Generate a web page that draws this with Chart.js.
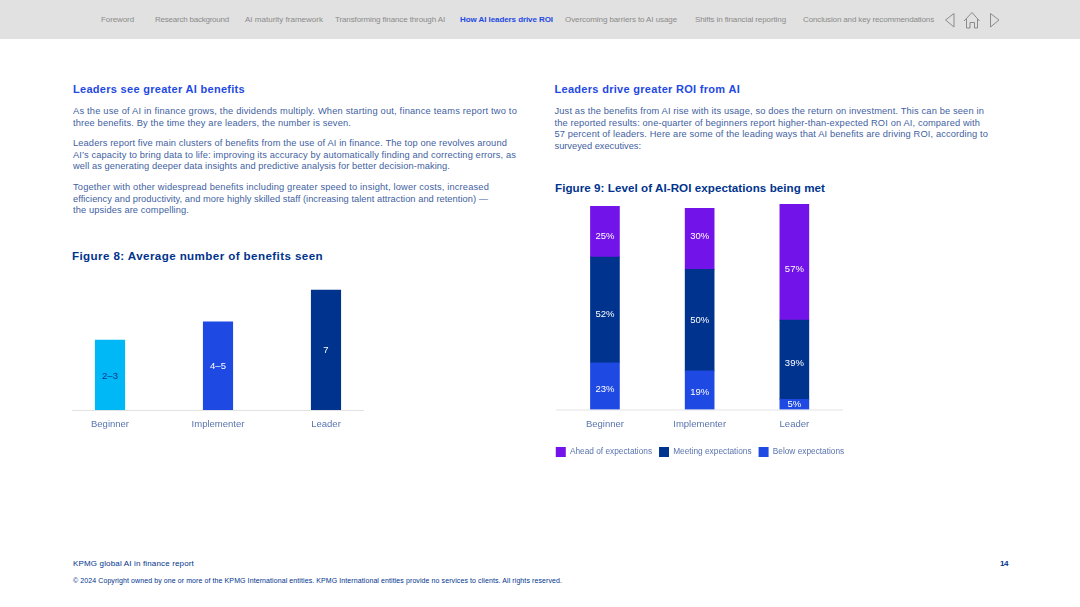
<!DOCTYPE html>
<html><head><meta charset="utf-8">
<script src="https://cdn.jsdelivr.net/npm/chart.js@4"></script>
<style>
html,body{margin:0;padding:0;background:#fff;width:1080px;height:607px;overflow:hidden;font-family:"Liberation Sans",sans-serif}
#band{position:absolute;left:0;top:0;width:1080px;height:39px;background:#e1e1e1}
.t{position:absolute;white-space:nowrap;line-height:1;transform:translateY(-50%)}
.nav{font-size:8px;color:#8b8b8b}
.navon{font-size:8px;color:#1e49e2;font-weight:700}
.h{font-size:11px;color:#1e49e2;font-weight:700}
.b{font-size:9.3px;color:#3f5f9f}
.fig{font-size:11.6px;color:#00338d;font-weight:700}
.fa{font-size:8px;color:#00338d}
.fc{font-size:7px;color:#00338d}
canvas{position:absolute}
svg{position:absolute}
</style></head><body>
<div id="band"></div>
<div id="text"></div>
<svg style="left:940px;top:8px" width="70" height="24" fill="none" stroke="#8b8b8b" stroke-width="1">
<path d="M14 5.5 L5.5 12 L14 19 Z"/>
<path d="M24 13 L32 4.5 L39.5 13 M26.5 11 V20 H30 V14.5 H34.5 V20 H37.5 V11"/>
<path d="M50.5 5.5 L59 12 L50.5 19 Z"/>
</svg>
<canvas id="c8" style="left:56px;top:273px;width:324px;height:177px" width="324" height="177"></canvas>
<canvas id="c9" style="left:520px;top:186px;width:360px;height:281px" width="360" height="281"></canvas>
<script>
const stages = ["Beginner","Implementer","Leader"];
const benefitsBarValues = [4.08,5.15,7];
const benefitsLabels = ["2–3","4–5","7"];
const benefitsColors = ["#00B8F5","#1E49E2","#00338D"];
const benefitsLabelColors = ["#00338D","#ffffff","#ffffff"];
const ahead = [25,30,57];
const meeting = [52,50,39];
const below = [23,19,5];
const seriesNames = ["Below expectations","Meeting expectations","Ahead of expectations"];
const seriesColors = ["#1E49E2","#00338D","#7213EA"];
// vertical nudges of the printed labels, in px
const benefitsNudge=[1,0,0], belowNudge=[3,2,0], meetingNudge=[4,0,4], aheadNudge=[5,-2,7];

const textRows = [
 ["nav","Foreword",101,20,33],["nav","Research background",155,20,74],["nav","AI maturity framework",245,20,78],
 ["nav","Transforming finance through AI",335,20,110],["navon","How AI leaders drive ROI",460,20,93],
 ["nav","Overcoming barriers to AI usage",565,20,112],["nav","Shifts in financial reporting",695,20,91],
 ["nav","Conclusion and key recommendations",803,20,131],
 ["h","Leaders see greater AI benefits",73,89,172],
 ["b","As the use of AI in finance grows, the dividends multiply. When starting out, finance teams report two to",73,112,444],
 ["b","three benefits. By the time they are leaders, the number is seven.",73,124,278],
 ["b","Leaders report five main clusters of benefits from the use of AI in finance. The top one revolves around",73,144,434],
 ["b","AI’s capacity to bring data to life: improving its accuracy by automatically finding and correcting errors, as",73,155.5,443],
 ["b","well as generating deeper data insights and predictive analysis for better decision-making.",73,167,377],
 ["b","Together with other widespread benefits including greater speed to insight, lower costs, increased",73,188,416],
 ["b","efficiency and productivity, and more highly skilled staff (increasing talent attraction and retention) —",73,199.5,415],
 ["b","the upsides are compelling.",73,211,116],
 ["fig","Figure 8: Average number of benefits seen",72,256,251],
 ["h","Leaders drive greater ROI from AI",554.5,89,185.5],
 ["b","Just as the benefits from AI rise with its usage, so does the return on investment. This can be seen in",554.5,112,429.5],
 ["b","the reported results: one-quarter of beginners report higher-than-expected ROI on AI, compared with",554.5,123.5,425.5],
 ["b","57 percent of leaders. Here are some of the leading ways that AI benefits are driving ROI, according to",554.5,135,433.5],
 ["b","surveyed executives:",554.5,147,86.5],
 ["fig","Figure 9: Level of AI-ROI expectations being met",555,187.5,270],
 ["fa","KPMG global AI in finance report",73,564,121],
 ["fa","14",1000,564,8],
 ["fc","© 2024 Copyright owned by one or more of the KPMG International entities. KPMG International entities provide no services to clients. All rights reserved.",73,580,489]
];
const holder=document.getElementById("text");
for(const [cls,str,x,y,w] of textRows){
  const d=document.createElement("div");d.className="t "+cls;d.textContent=str;
  d.style.left=x+"px";d.style.top=y+"px";holder.appendChild(d);
  const natural=d.getBoundingClientRect().width;
  d.style.letterSpacing=((w-natural)/str.length)+"px";
  if(str==="14")d.style.fontWeight="700";
}
Chart.defaults.animation=false;
Chart.defaults.font.family='"Liberation Sans",sans-serif';

const barLabels={id:"barLabels",afterDatasetsDraw(chart){
  const ctx=chart.ctx;
  chart.data.datasets.forEach((ds,i)=>{
    chart.getDatasetMeta(i).data.forEach((bar,j)=>{
      const p=bar.getProps(["x","y","base"],true);
      ctx.save();
      ctx.font='9.5px "Liberation Sans",sans-serif';
      ctx.fillStyle=ds.labelColors[j];ctx.textAlign="center";ctx.textBaseline="middle";
      ctx.fillText(ds.labelTexts[j],p.x,(p.y+p.base)/2+ds.labelNudge[j]);
      ctx.restore();
    });
  });
}};
const baseline={id:"baseline",beforeDatasetsDraw(chart,a,o){
  const ctx=chart.ctx,y=chart.scales.y.getPixelForValue(0);
  ctx.save();ctx.strokeStyle="#e3e3e3";ctx.lineWidth=1;
  ctx.beginPath();ctx.moveTo(o.from,y+.5);ctx.lineTo(o.to,y+.5);ctx.stroke();ctx.restore();
}};
const xAxis=(h)=>({grid:{display:false,drawTicks:false},border:{display:false},
  ticks:{color:"#5a74ad",font:{size:9.5},padding:9,maxRotation:0,autoSkip:false},
  afterFit(s){s.height=h}});
const spacerAxis=(w,pos)=>({position:pos,grid:{display:false},border:{display:false},ticks:{display:false},afterFit(s){s.width=w}});

new Chart(document.getElementById("c8"),{type:"bar",plugins:[barLabels,baseline],
 data:{labels:stages,datasets:[{data:benefitsBarValues,backgroundColor:benefitsColors,barThickness:29.5,
   labelTexts:benefitsLabels,labelColors:benefitsLabelColors,labelNudge:benefitsNudge}]},
 options:{responsive:false,devicePixelRatio:1,layout:{padding:0},
  plugins:{legend:{display:false},tooltip:{enabled:false},baseline:{from:16,to:308}},
  scales:{x:xAxis(40),y:{display:false,min:0,max:8}}}});

const pct=a=>a.map(v=>v+"%");
const white=["#fff","#fff","#fff"];
new Chart(document.getElementById("c9"),{type:"bar",plugins:[barLabels,baseline],
 data:{labels:stages,datasets:[
  {label:seriesNames[0],data:below,backgroundColor:seriesColors[0],barThickness:29,labelTexts:pct(below),labelColors:white,labelNudge:belowNudge},
  {label:seriesNames[1],data:meeting,backgroundColor:seriesColors[1],barThickness:29,labelTexts:pct(meeting),labelColors:white,labelNudge:meetingNudge},
  {label:seriesNames[2],data:ahead,backgroundColor:seriesColors[2],barThickness:29,labelTexts:pct(ahead),labelColors:white,labelNudge:aheadNudge}
 ]},
 options:{responsive:false,devicePixelRatio:1,layout:{padding:0},
  plugins:{tooltip:{enabled:false},baseline:{from:36,to:323},
   legend:{position:"bottom",reverse:true,labels:{boxWidth:10,boxHeight:10,padding:7,color:"#5a74ad",font:{size:8.3}}}},
  scales:{x:Object.assign(xAxis(30.5),{stacked:true}),
    y:Object.assign(spacerAxis(37.6,"left"),{stacked:true,min:0,max:110}),
    yRight:Object.assign(spacerAxis(38.3,"right"),{min:0,max:110})}}});
</script>
</body></html>
